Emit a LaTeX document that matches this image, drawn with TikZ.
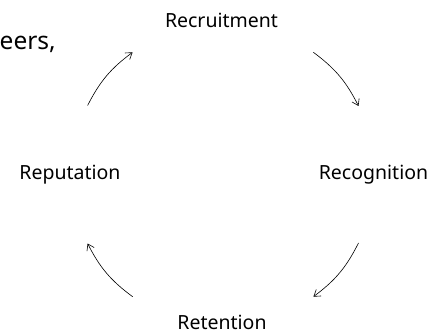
\documentclass[tikz,border=0pt]{standalone}
\usepackage{fontspec}
\setmainfont{Noto Sans}
\usetikzlibrary{arrows.meta}
\begin{document}
\begin{tikzpicture}[x=1pt,y=-1pt,
  lbl/.style={inner sep=0pt,anchor=base,font=\fontsize{19.5}{23}\selectfont},
  cyc/.style={line width=0.6pt,-{Straight Barb[length=6pt,width=8pt,line width=0.6pt]}}]
\useasboundingbox (0,0) rectangle (437,334);
\node[lbl] (rec) at (221.5,28) {Recruitment};
\node[lbl] (rcg) at (373.5,180) {Recognition};
\node[lbl] (ret) at (222,329) {Retention};
\node[lbl] (rep) at (70,180) {Reputation};
\node[inner sep=0pt,anchor=base west,font=\fontsize{24.5}{29}\selectfont] (ttl) at (-0.5,50) {eers,};
\coordinate (a1) at (87.6,105.5);
\coordinate (a2) at (132.6,52.3);
\coordinate (b1) at (313.4,52.3);
\coordinate (b2) at (358.5,106);
\coordinate (c1) at (358.5,243);
\coordinate (c2) at (313.4,296.7);
\coordinate (d1) at (132.6,296.7);
\coordinate (d2) at (87.6,243.5);
\draw[cyc] (a1) to[bend left=13.25] (a2);
\draw[cyc] (b1) to[bend left=13.25] (b2);
\draw[cyc] (c1) to[bend left=13.25] (c2);
\draw[cyc] (d1) to[bend left=13.25] (d2);
\end{tikzpicture}
\end{document}
